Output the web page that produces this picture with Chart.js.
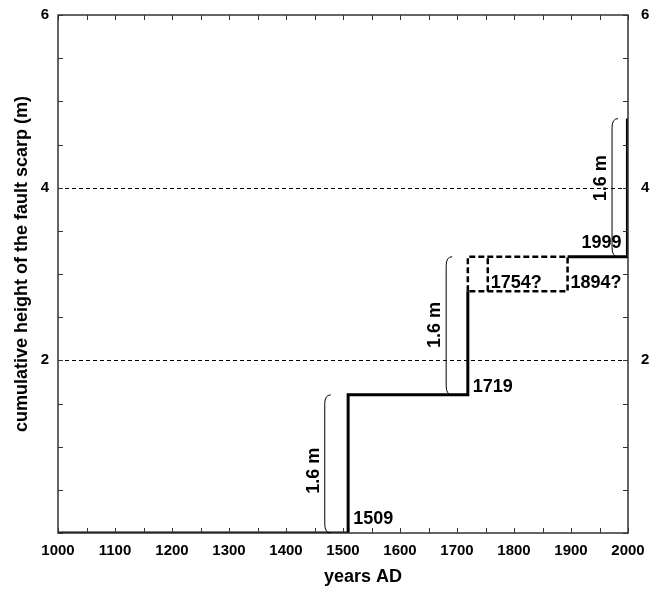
<!DOCTYPE html>
<html>
<head>
<meta charset="utf-8">
<script src="https://cdn.jsdelivr.net/npm/chart.js@4/dist/chart.umd.min.js"></script>
<style>
  html, body { margin: 0; padding: 0; background: #fff; }
  #wrap { width: 657px; height: 589px; }
</style>
</head>
<body>
<div id="wrap"><canvas id="c" width="657" height="589"></canvas></div>
<script>
// ---- data ----
const stepYears = [1000, 1509, 1509, 1719, 1719];
const stepHeights = [0, 0, 1.6, 1.6, 2.8];
const recentYears = [1894, 1999, 1999];
const recentHeights = [3.2, 3.2, 4.8];
const uncertainYears = [1719, 1719, 1894, 1894, 1719];
const uncertainHeights = [2.8, 3.2, 3.2, 2.8, 2.8];
const altYears = [1754, 1754];
const altHeights = [2.8, 3.2];

const yLabelValues = [2, 4, 6];
const gridValues = [2, 4];

const eventLabels = ['1509', '1719', '1754?', '1894?', '1999'];
const eventLabelYears = [1509, 1719, 1754, 1894, 1999];
const eventLabelHeights = [0.16, 1.69, 2.90, 2.90, 3.36];

const braceYears = [1468, 1681, 1972];
const braceBottoms = [0, 1.6, 3.2];
const braceTops = [1.6, 3.2, 4.8];
const braceText = ['1.6 m', '1.6 m', '1.6 m'];
const braceTextHeights = [0.72, 2.41, 4.11];

const FONT = "'Liberation Sans', Arial, Helvetica, sans-serif";

function pts(xs, ys) { return xs.map((x, i) => ({ x: x, y: ys[i] })); }

const annotPlugin = {
  id: 'annot',
  beforeDatasetsDraw(chart) {
    const { ctx, chartArea: a, scales } = chart;
    const y = scales.y;
    ctx.save();
    ctx.strokeStyle = '#000';
    ctx.lineWidth = 1;
    ctx.setLineDash([4, 3]);
    gridValues.forEach(v => {
      const py = Math.round(y.getPixelForValue(v)) + 0.5;
      ctx.beginPath();
      ctx.moveTo(a.left, py);
      ctx.lineTo(a.right, py);
      ctx.stroke();
    });
    ctx.restore();
  },
  afterDatasetsDraw(chart) {
    const { ctx, chartArea: a, scales } = chart;
    const x = scales.x, y = scales.y;
    ctx.save();
    // frame
    ctx.strokeStyle = '#333';
    ctx.lineWidth = 1.5;
    ctx.strokeRect(a.left, a.top, a.right - a.left, a.bottom - a.top);
    // inward ticks
    ctx.lineWidth = 1;
    const tl = 5;
    x.ticks.forEach(t => {
      const px = Math.round(x.getPixelForValue(t.value)) + 0.5;
      ctx.beginPath();
      ctx.moveTo(px, a.bottom); ctx.lineTo(px, a.bottom - tl);
      ctx.moveTo(px, a.top); ctx.lineTo(px, a.top + tl);
      ctx.stroke();
    });
    y.ticks.forEach(t => {
      const py = Math.round(y.getPixelForValue(t.value)) + 0.5;
      ctx.beginPath();
      ctx.moveTo(a.left, py); ctx.lineTo(a.left + tl, py);
      ctx.moveTo(a.right, py); ctx.lineTo(a.right - tl, py);
      ctx.stroke();
    });
    // braces
    ctx.strokeStyle = '#000';
    ctx.lineWidth = 1;
    braceYears.forEach((yr, i) => {
      const bx = x.getPixelForValue(yr);
      const yt = y.getPixelForValue(braceTops[i]);
      const yb = y.getPixelForValue(braceBottoms[i]);
      const h = 9, w = 6;
      ctx.beginPath();
      ctx.moveTo(bx + w, yt);
      ctx.quadraticCurveTo(bx, yt, bx, yt + h);
      ctx.lineTo(bx, yb - h);
      ctx.quadraticCurveTo(bx, yb, bx + w, yb);
      ctx.stroke();
      ctx.save();
      ctx.translate(bx - 11, y.getPixelForValue(braceTextHeights[i]));
      ctx.rotate(-Math.PI / 2);
      ctx.fillStyle = '#000';
      ctx.font = 'bold 18px ' + FONT;
      ctx.textAlign = 'center';
      ctx.textBaseline = 'middle';
      ctx.fillText(braceText[i], 0, 0);
      ctx.restore();
    });
    // event labels
    ctx.fillStyle = '#000';
    ctx.font = 'bold 18px ' + FONT;
    ctx.textBaseline = 'middle';
    const offs = [5, 5, 3, 3, -6];
    eventLabels.forEach((txt, i) => {
      const px = x.getPixelForValue(eventLabelYears[i]) + offs[i];
      const py = y.getPixelForValue(eventLabelHeights[i]);
      ctx.textAlign = offs[i] < 0 ? 'right' : 'left';
      ctx.fillText(txt, px, py);
    });
    ctx.restore();
  }
};

const tickFont = { family: FONT, size: 15, weight: 'bold' };
function noPad(s) { s.paddingTop = 0; s.paddingBottom = 0; s.paddingLeft = 0; s.paddingRight = 0; }

new Chart(document.getElementById('c'), {
  type: 'line',
  data: {
    datasets: [
      { data: pts(stepYears, stepHeights), borderColor: '#000', borderWidth: 3, pointRadius: 0, tension: 0 },
      { data: pts(recentYears, recentHeights), borderColor: '#000', borderWidth: 3, pointRadius: 0, tension: 0 },
      { data: pts(uncertainYears, uncertainHeights), borderColor: '#000', borderWidth: 2.5, borderDash: [6, 3], pointRadius: 0, tension: 0 },
      { data: pts(altYears, altHeights), borderColor: '#000', borderWidth: 2.5, borderDash: [6, 3], pointRadius: 0, tension: 0 }
    ]
  },
  options: {
    responsive: false,
    animation: false,
    devicePixelRatio: 1,
    layout: { padding: { top: 15, left: 0, right: 0, bottom: 0 } },
    plugins: { legend: { display: false }, tooltip: { enabled: false } },
    scales: {
      x: {
        type: 'linear', position: 'bottom', min: 1000, max: 2000,
        grid: { display: false, drawTicks: false },
        border: { display: false },
        ticks: {
          stepSize: 50, autoSkip: false, maxRotation: 0, padding: 9,
          color: '#000', font: tickFont,
          callback: v => (v % 100 === 0 ? String(v) : '')
        },
        title: { display: true, text: '        years AD', color: '#000',
          font: { family: FONT, size: 18, weight: 'bold' }, padding: { top: 0, bottom: 1 } },
        afterFit: s => { s.height = 56; noPad(s); }
      },
      y: {
        type: 'linear', position: 'left', min: 0, max: 6,
        grid: { display: false, drawTicks: false },
        border: { display: false },
        ticks: {
          stepSize: 0.5, autoSkip: false, padding: 9, color: '#000', font: tickFont,
          callback: v => (yLabelValues.includes(v) ? String(v) : '')
        },
        title: { display: true, text: '    cumulative height of the fault scarp (m)', color: '#000',
          font: { family: FONT, size: 18, weight: 'bold' }, padding: { top: 11, bottom: 0 } },
        afterFit: s => { s.width = 58; noPad(s); }
      },
      y2: {
        type: 'linear', position: 'right', min: 0, max: 6,
        grid: { display: false, drawTicks: false },
        border: { display: false },
        ticks: {
          stepSize: 0.5, autoSkip: false, padding: 13, color: '#000', font: tickFont,
          callback: v => (yLabelValues.includes(v) ? String(v) : '')
        },
        afterFit: s => { s.width = 29; noPad(s); }
      }
    }
  },
  plugins: [annotPlugin]
});
</script>
</body>
</html>
